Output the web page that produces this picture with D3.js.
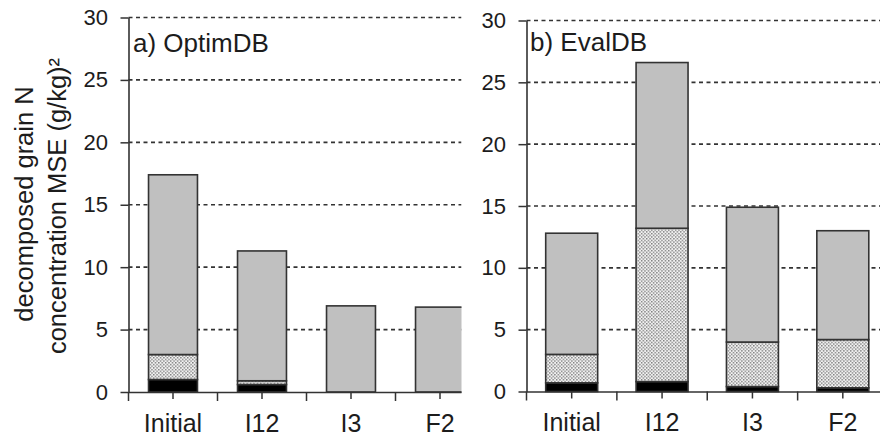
<!DOCTYPE html>
<html>
<head>
<meta charset="utf-8">
<script src="https://cdn.jsdelivr.net/npm/d3@7"></script>
<style>
  html, body { margin: 0; padding: 0; background: #fff; }
  svg { display: block; }
  text { font-family: "Liberation Sans", Arial, sans-serif; fill: #1c1c1c; }
</style>
</head>
<body>
<svg id="chart" width="880" height="443"></svg>
<script>
// ---- data ----
const categories = ["Initial", "I12", "I3", "F2"];
const yTicks = [0, 5, 10, 15, 20, 25, 30];
const panelTitles = ["a) OptimDB", "b) EvalDB"];
const seriesKeys = ["black", "dotted", "gray"];

const optimBlack  = [1.0, 0.6, 0.0, 0.0];
const optimDotted = [2.0, 0.3, 0.0, 0.0];
const optimGray   = [14.4, 10.4, 6.9, 6.8];

const evalBlack  = [0.7, 0.8, 0.4, 0.3];
const evalDotted = [2.3, 12.4, 3.6, 3.9];
const evalGray   = [9.8, 13.4, 10.9, 8.8];

const yTitleLines = ["decomposed grain N", "concentration MSE (g/kg)\u00B2"];

// ---- layout ----
const svg = d3.select("#chart");
const defs = svg.append("defs");

const pat = defs.append("pattern")
  .attr("id", "dots").attr("patternUnits", "userSpaceOnUse")
  .attr("width", 3.4).attr("height", 3.4);
pat.append("rect").attr("width", 3.4).attr("height", 3.4).attr("fill", "#f2f2f2");
pat.append("rect").attr("x", 0).attr("y", 0).attr("width", 1.4).attr("height", 1.4).attr("fill", "#7a7a7a");
pat.append("rect").attr("x", 1.7).attr("y", 1.7).attr("width", 1.4).attr("height", 1.4).attr("fill", "#7a7a7a");

const fills = { black: "#000", dotted: "url(#dots)", gray: "#c0c0c0" };

const panels = [
  { title: panelTitles[0], black: optimBlack, dotted: optimDotted, gray: optimGray,
    x0: 128.5, x1: 484.5, clipRight: 461.5, yTop: 17.5, yBottom: 392, barFrac: 0.55,
    titleX: 133, titleY: 52 },
  { title: panelTitles[1], black: evalBlack, dotted: evalDotted, gray: evalGray,
    x0: 526.5, x1: 888, clipRight: 880, yTop: 20.5, yBottom: 391.5, barFrac: 0.575,
    titleX: 530, titleY: 51 }
];

panels.forEach((p, pi) => {
  const clipId = "clip" + pi;
  defs.append("clipPath").attr("id", clipId)
    .append("rect").attr("x", 0).attr("y", 0).attr("width", p.clipRight).attr("height", 443);

  const g = svg.append("g").attr("clip-path", `url(#${clipId})`);

  const x = d3.scaleBand().domain(categories).range([p.x0, p.x1]).paddingInner(0).paddingOuter(0);
  const y = d3.scaleLinear().domain([0, 30]).range([p.yBottom, p.yTop]);

  // gridlines
  g.append("g").selectAll("line").data(yTicks.filter(t => t > 0)).join("line")
    .attr("x1", p.x0).attr("x2", p.clipRight)
    .attr("y1", d => y(d)).attr("y2", d => y(d))
    .attr("stroke", "#333").attr("stroke-width", 1.6)
    .attr("stroke-dasharray", "4,3.5");

  // stacked bars
  const rows = categories.map((c, i) => ({ cat: c, black: p.black[i], dotted: p.dotted[i], gray: p.gray[i] }));
  const stacked = d3.stack().keys(seriesKeys)(rows);
  const bw = x.bandwidth() * p.barFrac;
  stacked.forEach(layer => {
    g.append("g").selectAll("rect").data(layer.filter(d => d[1] - d[0] > 0)).join("rect")
      .attr("x", d => x(d.data.cat) + (x.bandwidth() - bw) / 2)
      .attr("width", bw)
      .attr("y", d => y(d[1]))
      .attr("height", d => y(d[0]) - y(d[1]))
      .attr("fill", fills[layer.key])
      .attr("stroke", "#333").attr("stroke-width", 1.6);
  });

  // y axis
  const yAxis = d3.axisLeft(y).tickValues(yTicks).tickSize(8).tickPadding(12.5).tickSizeOuter(0);
  const ya = svg.append("g").attr("transform", `translate(${p.x0},0)`).call(yAxis);
  ya.select(".domain").attr("stroke", "#333").attr("stroke-width", 1.6);
  ya.selectAll(".tick line").attr("stroke", "#333").attr("stroke-width", 1.5);
  ya.selectAll(".tick text").style("font-size", "22px").attr("fill", "#1c1c1c")
    .style("font-family", "'Liberation Sans', Arial, sans-serif");

  // x axis
  const xAxis = d3.axisBottom(x).tickSize(7).tickPadding(15).tickSizeOuter(0);
  const xa = g.append("g").attr("transform", `translate(0,${p.yBottom})`).call(xAxis);
  xa.select(".domain").attr("stroke", "#333").attr("stroke-width", 1.6);
  xa.selectAll(".tick line").attr("stroke", "#333").attr("stroke-width", 1.5);
  xa.selectAll(".tick text").style("font-size", "25px").attr("fill", "#1c1c1c")
    .style("font-family", "'Liberation Sans', Arial, sans-serif");
  // boundary ticks between categories
  xa.append("g").selectAll("line").data(d3.range(categories.length + 1)).join("line")
    .attr("x1", i => p.x0 + i * x.step()).attr("x2", i => p.x0 + i * x.step())
    .attr("y1", 0).attr("y2", 9)
    .attr("stroke", "#333").attr("stroke-width", 1.5);

  // panel title
  svg.append("text").attr("x", p.titleX).attr("y", p.titleY)
    .style("font-size", "26px").text(p.title);
});

// y axis title
const yt = svg.append("g");
yt.append("text").attr("transform", "translate(33,204) rotate(-90)")
  .attr("text-anchor", "middle").style("font-size", "25.5px").text(yTitleLines[0]);
yt.append("text").attr("transform", "translate(66,206) rotate(-90)")
  .attr("text-anchor", "middle").style("font-size", "25.5px").text(yTitleLines[1]);
</script>
</body>
</html>
